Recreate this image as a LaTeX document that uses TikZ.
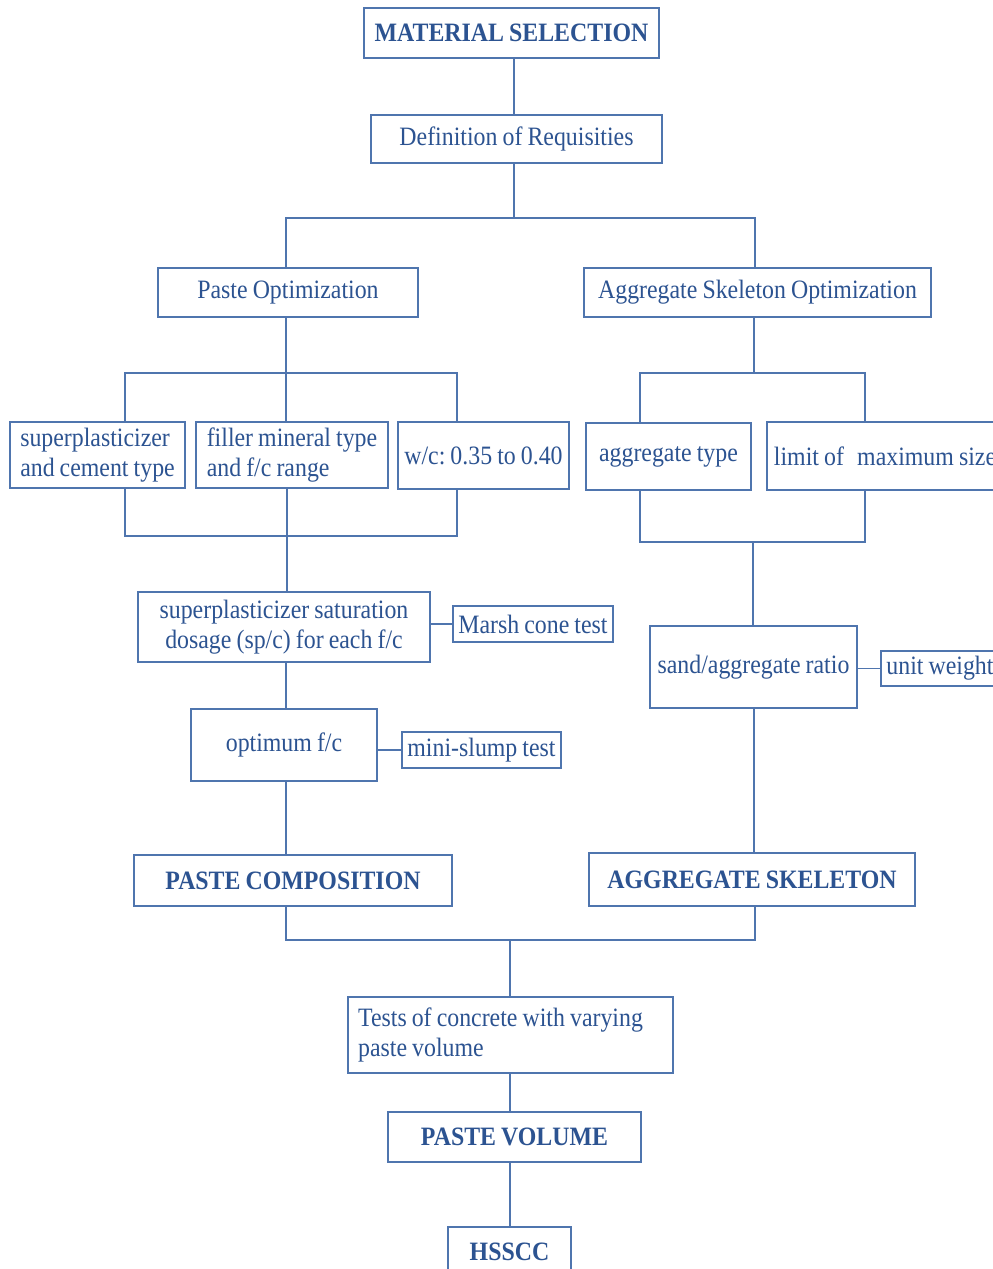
\documentclass[tikz,border=0pt]{standalone}
\usepackage{fontspec}
\newfontfamily\diagfont{Liberation Serif}[FakeStretch=0.9,WordSpace=0.85]
\definecolor{linec}{HTML}{4F75AE}
\definecolor{textc}{HTML}{2C5391}
\tikzset{
  box/.style={draw=linec, line width=1.3pt, text=textc, inner ysep=2pt, inner xsep=6pt,
    font=\diagfont\frenchspacing\fontsize{26.5}{30}\selectfont, anchor=center},
  bbox/.style={box, font=\diagfont\frenchspacing\bfseries\fontsize{26.5}{30}\selectfont},
  conn/.style={draw=linec, line width=1.3pt},
}
\begin{document}
\begin{tikzpicture}[x=1pt,y=-1pt]
\useasboundingbox (0,0) rectangle (993,1269);
\clip (0,0) rectangle (993,1269);
\fill[white] (0,0) rectangle (993,1269);
% nodes
\node[bbox, minimum width=295, minimum height=50] (ms) at (511.5,33) {MATERIAL SELECTION};
\node[box, minimum width=291, minimum height=48] (def) at (516.5,139) {Definition of Requisities};
\node[box, minimum width=260, minimum height=49] (po) at (288,292.5) {Paste Optimization};
\node[box, minimum width=347, minimum height=49] (ao) at (757.5,292.5) {Aggregate Skeleton Optimization};
\node[box, minimum width=175, minimum height=66, align=left] (sc) at (97.5,455) {superplasticizer\\and cement type};
\node[box, minimum width=192, minimum height=66, align=left] (fm) at (292,455) {filler mineral type\\and f/c range};
\node[box, minimum width=171, minimum height=67, inner xsep=2pt] (wc) at (483.5,455.5) {w/c: 0.35 to 0.40};
\node[box, minimum width=165, minimum height=67] (at) at (668.5,456.5) {aggregate type};
\node[box, minimum width=236, minimum height=68, inner xsep=3pt] (lm) at (885,456) {limit of\hspace{0.5em}maximum size};
\node[box, minimum width=292, minimum height=70, align=center] (ss) at (284,627) {superplasticizer saturation\\dosage (sp/c) for each f/c};
\node[box, minimum width=160, minimum height=36, inner xsep=2pt] (mc) at (533,624) {Marsh cone test};
\node[box, minimum width=207, minimum height=82, inner xsep=2pt] (sa) at (753.5,667) {sand/aggregate ratio};
\node[box, minimum width=118, minimum height=35, inner xsep=2pt] (uw) at (940,668.5) {unit weight};
\node[box, minimum width=186, minimum height=72] (of) at (284,745) {optimum f/c};
\node[box, minimum width=159, minimum height=36, inner xsep=2pt] (msl) at (481.5,750) {mini-slump test};
\node[bbox, minimum width=318, minimum height=51] (pc) at (293,880.5) {PASTE COMPOSITION};
\node[bbox, minimum width=326, minimum height=53] (as) at (752,879.5) {AGGREGATE SKELETON};
\node[box, minimum width=325, minimum height=76, align=left] (tc) at (510.5,1035) {Tests of concrete with varying\hspace*{20pt}\\paste volume};
\node[bbox, minimum width=253, minimum height=50] (pv) at (514.5,1137) {PASTE VOLUME};
\node[bbox, minimum width=123, minimum height=50] (hs) at (509.5,1252) {HSSCC};
% junction coordinates
\coordinate (t1) at (514,218);
\coordinate (t1L) at (286,218);
\coordinate (t1R) at (755,218);
\coordinate (p1) at (286,373);
\coordinate (p1L) at (125,373);
\coordinate (p1R) at (457,373);
\coordinate (p2) at (287,536);
\coordinate (p2L) at (125,536);
\coordinate (p2R) at (457,536);
\coordinate (p3) at (286,940);
\coordinate (q3) at (755,940);
\coordinate (b1) at (510,940);
\coordinate (a1) at (754,373);
\coordinate (a1L) at (640,373);
\coordinate (a1R) at (865,373);
\coordinate (a2) at (753,542);
\coordinate (a2L) at (640,542);
\coordinate (a2R) at (865,542);
% connectors
\draw[conn] (t1 |- ms.south) -- (t1 |- def.north);
\draw[conn] (t1 |- def.south) -- (t1);
\draw[conn] (t1L |- po.north) -- (t1L) -- (t1R) -- (t1R |- ao.north);
\draw[conn] (p1 |- po.south) -- (p1);
\draw[conn] (p1L |- sc.north) -- (p1L) -- (p1R) -- (p1R |- wc.north);
\draw[conn] (p1) -- (p1 |- fm.north);
\draw[conn] (p2L |- sc.south) -- (p2L) -- (p2R) -- (p2R |- wc.south);
\draw[conn] (p2 |- fm.south) -- (p2) -- (p2 |- ss.north);
\draw[conn] (mc.west -| ss.east) -- (mc.west);
\draw[conn] (p1 |- ss.south) -- (p1 |- of.north);
\draw[conn] (msl.west -| of.east) -- (msl.west);
\draw[conn] (p3 |- of.south) -- (p3 |- pc.north);
\draw[conn] (p3 |- pc.south) -- (p3) -- (q3) -- (q3 |- as.south);
\draw[conn] (a1 |- ao.south) -- (a1);
\draw[conn] (a1L |- at.north) -- (a1L) -- (a1R) -- (a1R |- lm.north);
\draw[conn] (a2L |- at.south) -- (a2L) -- (a2R) -- (a2R |- lm.south);
\draw[conn] (a2) -- (a2 |- sa.north);
\draw[conn] (uw.west -| sa.east) -- (uw.west);
\draw[conn] (a1 |- sa.south) -- (a1 |- as.north);
\draw[conn] (b1) -- (b1 |- tc.north);
\draw[conn] (b1 |- tc.south) -- (b1 |- pv.north);
\draw[conn] (b1 |- pv.south) -- (b1 |- hs.north);
\end{tikzpicture}
\end{document}
